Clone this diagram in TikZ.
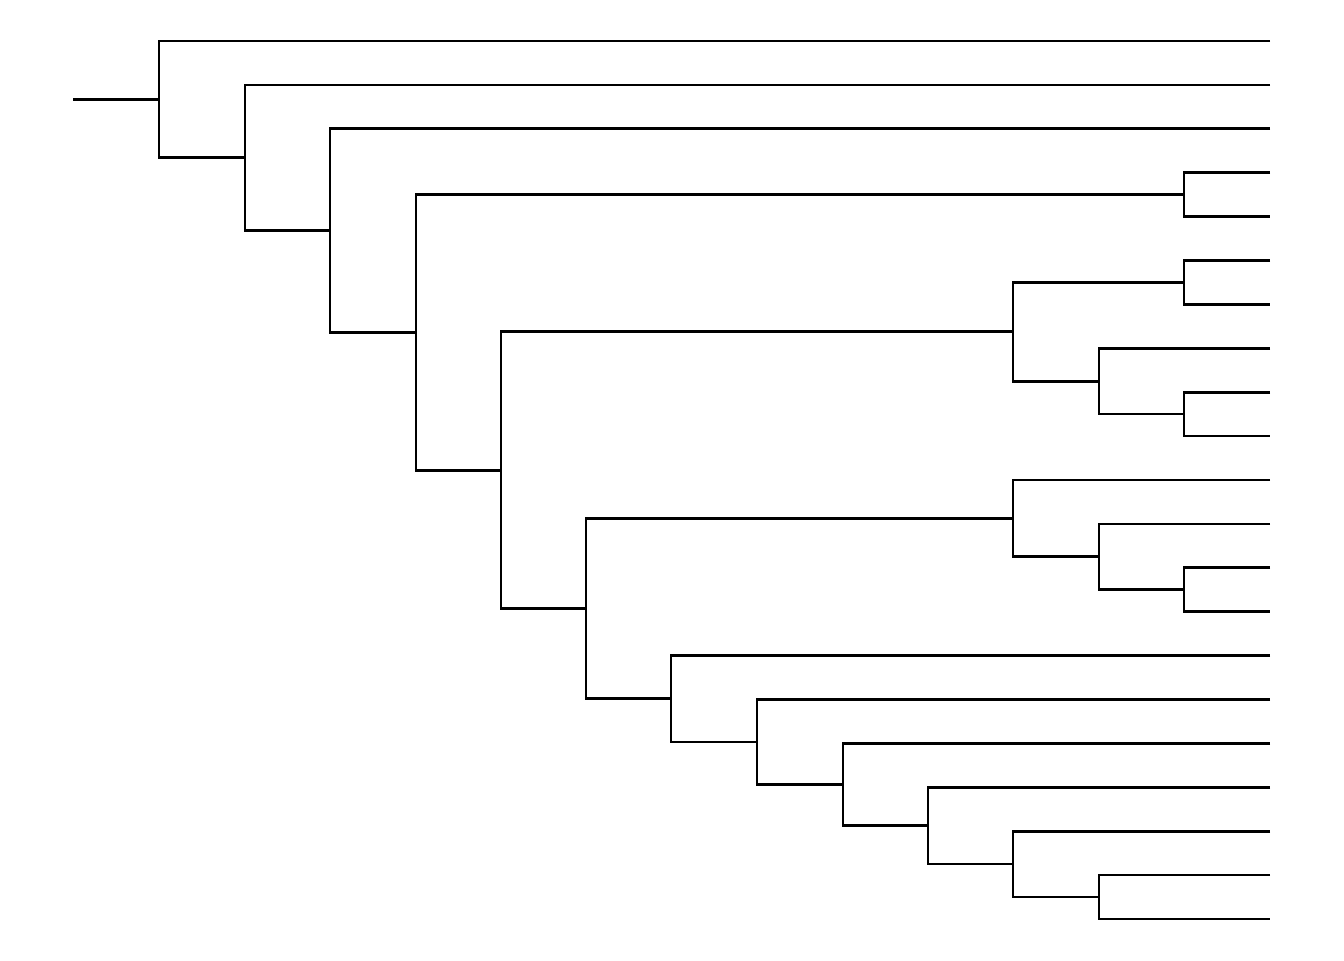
\documentclass[tikz,border=0pt]{standalone}
\begin{document}
\begin{tikzpicture}[x=0.75pt,y=-0.75pt,branch/.style={draw=black,line width=2pt,line join=miter}]
\useasboundingbox[fill=white] (0,0) rectangle (1344,960);
\foreach \i in {0,...,20}{
  \coordinate (L\i) at (1270,{41+43.9*\i});
}
\coordinate (r) at (73,99.4);
\coordinate (n1) at (159,99.4);
\coordinate (n2) at (245,157.75);
\coordinate (n3) at (330,230.6);
\coordinate (n4) at (416,332.4);
\coordinate (n5) at (1184,194.65);
\coordinate (n6) at (501,470.2);
\coordinate (n7) at (1013,331.8);
\coordinate (n8) at (586,608.6);
\coordinate (n9) at (1184,282.45);
\coordinate (n10) at (1099,381.2);
\coordinate (n11) at (1184,414.15);
\coordinate (n12) at (1013,518.4);
\coordinate (n13) at (671,698.8);
\coordinate (n14) at (1099,556.8);
\coordinate (n15) at (1184,589.75);
\coordinate (n16) at (757,742.0);
\coordinate (n17) at (843,784.55);
\coordinate (n18) at (928,825.7);
\coordinate (n19) at (1013,864.1);
\coordinate (n20) at (1099,897.05);
\draw[branch] (r) -- (n1);
\draw[branch] (L0) -| (n1) |- (n2);
\draw[branch] (L1) -| (n2) |- (n3);
\draw[branch] (L2) -| (n3) |- (n4);
\draw[branch] (n5) -| (n4) |- (n6);
\draw[branch] (L3) -| (n5) |- (L4);
\draw[branch] (n7) -| (n6) |- (n8);
\draw[branch] (n9) -| (n7) |- (n10);
\draw[branch] (L5) -| (n9) |- (L6);
\draw[branch] (L7) -| (n10) |- (n11);
\draw[branch] (L8) -| (n11) |- (L9);
\draw[branch] (n12) -| (n8) |- (n13);
\draw[branch] (L10) -| (n12) |- (n14);
\draw[branch] (L11) -| (n14) |- (n15);
\draw[branch] (L12) -| (n15) |- (L13);
\draw[branch] (L14) -| (n13) |- (n16);
\draw[branch] (L15) -| (n16) |- (n17);
\draw[branch] (L16) -| (n17) |- (n18);
\draw[branch] (L17) -| (n18) |- (n19);
\draw[branch] (L18) -| (n19) |- (n20);
\draw[branch] (L19) -| (n20) |- (L20);
\end{tikzpicture}
\end{document}
